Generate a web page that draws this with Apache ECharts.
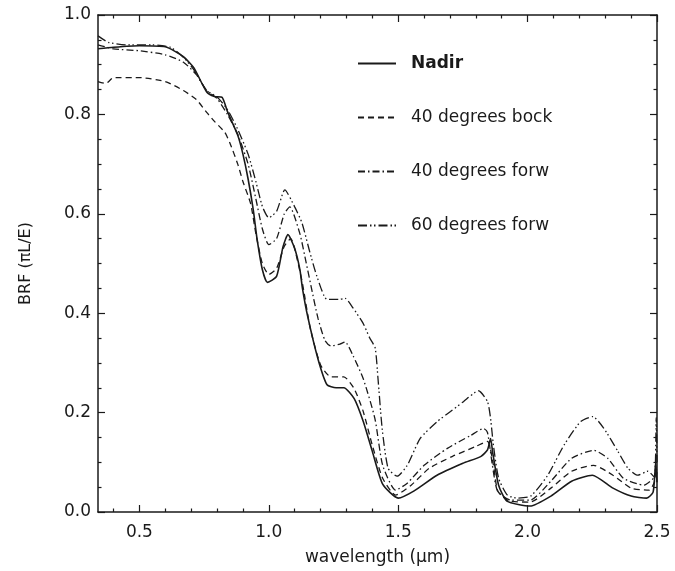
<!DOCTYPE html>
<html>
<head>
<meta charset="utf-8">
<script src="https://cdn.jsdelivr.net/npm/echarts@6/dist/echarts.min.js"></script>
<style>
  html, body { margin: 0; padding: 0; background: #fff; }
  #main { width: 675px; height: 571px; }
</style>
</head>
<body>
<div id="main"></div>
<script>
// wavelength (um), BRF pairs
var nadir = [
  [0.34, 0.932], [0.40, 0.935], [0.50, 0.938], [0.60, 0.936], [0.67, 0.916], [0.71, 0.894],
  [0.76, 0.845], [0.79, 0.836], [0.82, 0.834], [0.84, 0.806], [0.88, 0.758], [0.90, 0.72],
  [0.92, 0.67], [0.94, 0.608], [0.955, 0.548], [0.975, 0.488], [0.995, 0.462], [1.03, 0.474],
  [1.055, 0.534], [1.074, 0.558], [1.10, 0.53], [1.12, 0.488], [1.13, 0.45], [1.15, 0.394],
  [1.19, 0.308], [1.225, 0.256], [1.26, 0.25], [1.29, 0.25], [1.33, 0.228], [1.365, 0.182],
  [1.40, 0.122], [1.44, 0.056], [1.50, 0.028], [1.56, 0.042], [1.65, 0.074], [1.75, 0.098],
  [1.82, 0.112], [1.845, 0.125], [1.857, 0.148], [1.865, 0.12], [1.888, 0.054], [1.92, 0.022],
  [2.01, 0.012], [2.09, 0.032], [2.17, 0.062], [2.25, 0.074], [2.33, 0.048], [2.40, 0.032],
  [2.46, 0.028], [2.485, 0.04], [2.495, 0.1], [2.5, 0.06]
];
var back40 = [
  [0.34, 0.866], [0.37, 0.862], [0.40, 0.874], [0.50, 0.874], [0.60, 0.866], [0.67, 0.848],
  [0.72, 0.83], [0.76, 0.804], [0.79, 0.786], [0.83, 0.764], [0.85, 0.742], [0.88, 0.70],
  [0.90, 0.665], [0.93, 0.62], [0.95, 0.56], [0.975, 0.50], [1.0, 0.478], [1.03, 0.49],
  [1.06, 0.535], [1.085, 0.55], [1.10, 0.53], [1.13, 0.46], [1.16, 0.37], [1.20, 0.296],
  [1.24, 0.272], [1.29, 0.272], [1.33, 0.248], [1.365, 0.202], [1.40, 0.134], [1.44, 0.068],
  [1.49, 0.034], [1.55, 0.054], [1.62, 0.088], [1.71, 0.112], [1.80, 0.132], [1.845, 0.142],
  [1.868, 0.094], [1.885, 0.042], [1.93, 0.022], [2.01, 0.02], [2.09, 0.048], [2.17, 0.082],
  [2.255, 0.094], [2.33, 0.074], [2.40, 0.048], [2.47, 0.044], [2.49, 0.06], [2.5, 0.08]
];
var forw40 = [
  [0.34, 0.94], [0.40, 0.932], [0.50, 0.928], [0.60, 0.92], [0.67, 0.905], [0.72, 0.88],
  [0.76, 0.848], [0.80, 0.832], [0.84, 0.80], [0.88, 0.76], [0.92, 0.70], [0.95, 0.63],
  [0.975, 0.57], [1.0, 0.538], [1.03, 0.55], [1.06, 0.60], [1.081, 0.614], [1.12, 0.56],
  [1.145, 0.50], [1.165, 0.45], [1.19, 0.39], [1.217, 0.345], [1.24, 0.334], [1.275, 0.338],
  [1.295, 0.342], [1.326, 0.314], [1.365, 0.268], [1.41, 0.188], [1.44, 0.094], [1.49, 0.044],
  [1.535, 0.058], [1.60, 0.094], [1.69, 0.128], [1.78, 0.154], [1.83, 0.168], [1.845, 0.16],
  [1.864, 0.094], [1.884, 0.042], [1.934, 0.024], [2.01, 0.024], [2.09, 0.062], [2.17, 0.108],
  [2.256, 0.124], [2.31, 0.108], [2.37, 0.068], [2.45, 0.054], [2.49, 0.07], [2.5, 0.09]
];
var forw60 = [
  [0.34, 0.958], [0.38, 0.945], [0.45, 0.94], [0.55, 0.94], [0.62, 0.935], [0.67, 0.915],
  [0.71, 0.89], [0.76, 0.848], [0.80, 0.835], [0.84, 0.81], [0.88, 0.77], [0.92, 0.72],
  [0.95, 0.665], [0.975, 0.615], [1.0, 0.592], [1.03, 0.605], [1.062, 0.648], [1.10, 0.614],
  [1.128, 0.582], [1.159, 0.522], [1.186, 0.474], [1.225, 0.428], [1.275, 0.428], [1.295, 0.43],
  [1.326, 0.41], [1.364, 0.38], [1.39, 0.35], [1.411, 0.33], [1.422, 0.268], [1.438, 0.168],
  [1.461, 0.088], [1.496, 0.072], [1.535, 0.094], [1.585, 0.148], [1.651, 0.182], [1.702, 0.202],
  [1.752, 0.222], [1.81, 0.244], [1.845, 0.222], [1.857, 0.188], [1.868, 0.134], [1.888, 0.068],
  [1.922, 0.034], [1.961, 0.028], [2.012, 0.032], [2.078, 0.074], [2.14, 0.134], [2.205, 0.182],
  [2.252, 0.192], [2.295, 0.168], [2.349, 0.122], [2.388, 0.088], [2.426, 0.074], [2.465, 0.082],
  [2.49, 0.07], [2.497, 0.19], [2.5, 0.1]
];
var seriesNames = ['Nadir', '40 degrees bock', '40 degrees forw', '60 degrees forw'];
var xMajor = [0.5, 1.0, 1.5, 2.0, 2.5];
var xMinor = [0.4, 0.6, 0.7, 0.8, 0.9, 1.1, 1.2, 1.3, 1.4, 1.6, 1.7, 1.8, 1.9, 2.1, 2.2, 2.3, 2.4];

var ink = '#1a1a1a';
var font = 'DejaVu Sans';

function xAxisPart(pos, values, len, showLine, showLabel) {
    return {
        type: 'value', min: 0.34, max: 2.5, position: pos,
        axisLine: { show: showLine, lineStyle: { color: ink, width: 1.5 } },
        axisTick: { show: true, inside: true, length: len, customValues: values,
            lineStyle: { color: ink, width: 1.2 } },
        axisLabel: { show: showLabel, customValues: values, margin: 12,
            formatter: function (v) { return v.toFixed(1); },
            color: ink, fontFamily: font, fontSize: 17 },
        splitLine: { show: false }
    };
}

var xBottom = xAxisPart('bottom', xMajor, 7, true, true);
xBottom.name = 'wavelength (\u03bcm)';
xBottom.nameLocation = 'middle';
xBottom.nameGap = 37;
xBottom.nameTextStyle = { color: ink, fontFamily: font, fontSize: 17 };

function yAxisPart(pos, showLabel) {
    return {
        type: 'value', min: 0, max: 1, interval: 0.2, position: pos,
        axisLine: { show: true, lineStyle: { color: ink, width: 1.5 } },
        axisTick: { show: true, inside: true, length: 7, lineStyle: { color: ink, width: 1.2 } },
        minorTick: { show: true, splitNumber: 4, length: 3.5, lineStyle: { color: ink, width: 1.2 } },
        axisLabel: { show: showLabel, margin: 7,
            formatter: function (v) { return v.toFixed(1); },
            color: ink, fontFamily: font, fontSize: 17 },
        splitLine: { show: false },
        minorSplitLine: { show: false }
    };
}
var yLeft = yAxisPart('left', true);
yLeft.name = 'BRF (\u03c0L/E)';
yLeft.nameLocation = 'middle';
yLeft.nameGap = 64;
yLeft.nameTextStyle = { color: ink, fontFamily: font, fontSize: 16 };

var myChart = echarts.init(document.getElementById('main'));

var lineTypes = ['solid', [6, 4], [7, 3, 1.5, 3], [9, 3, 1.5, 2.5, 1.5, 3]];
var dataSets = [nadir, back40, forw40, forw60];

var series = [];
for (var i = 0; i < seriesNames.length; i++) {
    series.push({
        name: seriesNames[i],
        type: 'line',
        data: dataSets[i],
        symbol: 'none',
        smooth: 0.2,
        xAxisIndex: 0,
        yAxisIndex: 0,
        lineStyle: { color: ink, width: i === 0 ? 1.6 : 1.3, type: lineTypes[i] },
        itemStyle: { color: ink }
    });
}

var option = {
    animation: false,
    backgroundColor: '#fff',
    grid: { left: 98, right: 18, top: 15, bottom: 57 },
    legend: {
        orient: 'vertical',
        left: 352,
        top: 50,
        itemWidth: 38,
        itemHeight: 12,
        itemGap: 37,
        data: seriesNames,
        itemStyle: { opacity: 0, borderWidth: 0 },
        formatter: function (name) {
            return name === 'Nadir' ? '{b|' + name + '}' : '{n|' + name + '}';
        },
        textStyle: {
            color: ink, fontFamily: font, fontSize: 17,
            rich: {
                b: { fontWeight: 'bold', fontSize: 17, fontFamily: font, color: ink, padding: [0, 0, 0, 10] },
                n: { fontSize: 17, fontFamily: font, color: ink, padding: [0, 0, 0, 10] }
            }
        }
    },
    xAxis: [
        xBottom,
        xAxisPart('bottom', xMinor, 3.5, false, false),
        xAxisPart('top', xMajor, 7, true, false),
        xAxisPart('top', xMinor, 3.5, false, false)
    ],
    yAxis: [yLeft, yAxisPart('right', false)],
    series: series
};
myChart.setOption(option);
window.onresize = myChart.resize;
</script>
</body>
</html>
